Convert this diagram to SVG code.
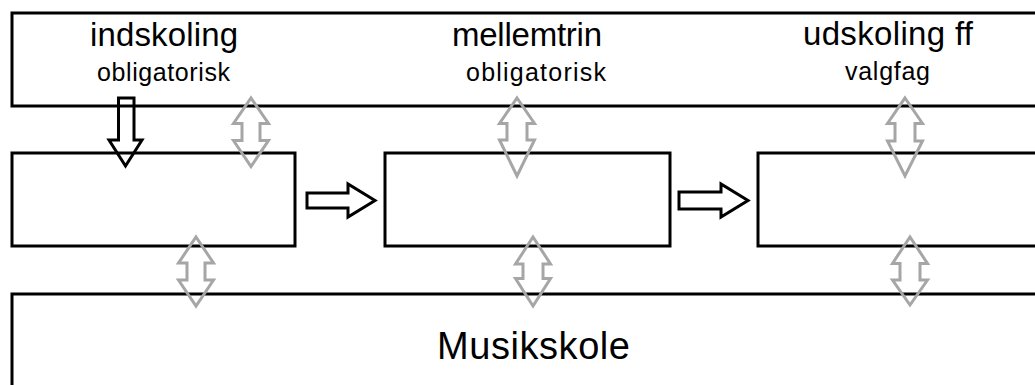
<svg xmlns="http://www.w3.org/2000/svg" width="1035" height="385" viewBox="0 0 1035 385">
  <style>
    .box { fill: none; stroke: #000; stroke-width: 3; }
    .blk { fill: none; stroke: #000; stroke-width: 3; stroke-linejoin: miter; }
    .gry { fill: none; stroke: #a6a6a6; stroke-width: 3; stroke-linejoin: miter; }
    .t { font-family: "Liberation Sans", Arial, sans-serif; fill: #000; text-anchor: middle; }
    .big { font-size: 33px; }
    .small { font-size: 25px; }
    .huge { font-size: 38px; }
  </style>
  <rect width="1035" height="385" fill="#fff"/>
  <g id="top-band">
    <rect class="box" x="12" y="13" width="1040" height="93"/>
    <text class="t big" x="164" y="46" textLength="148">indskoling</text>
    <text class="t small" x="163.5" y="81" textLength="133">obligatorisk</text>
    <text class="t big" x="527" y="46" textLength="150">mellemtrin</text>
    <text class="t small" x="536" y="81" textLength="140">obligatorisk</text>
    <text class="t big" x="888" y="45" textLength="170">udskoling ff</text>
    <text class="t small" x="887.5" y="80" textLength="85">valgfag</text>
  </g>
  <g id="stage-1">
    <rect class="box" x="12" y="153" width="283" height="93"/>
  </g>
  <g id="stage-2">
    <rect class="box" x="385" y="153" width="285" height="93"/>
  </g>
  <g id="stage-3">
    <rect class="box" x="758" y="153" width="300" height="93"/>
  </g>
  <g id="musikskole">
    <rect class="box" x="12" y="294" width="1040" height="120"/>
    <text class="t huge" x="533.5" y="359" textLength="193">Musikskole</text>
  </g>
  <g id="connectors">
    <path class="blk" d="M118.5,98 L134,98 L134,140 L142,140 L125.5,166 L109,140 L118.5,140 Z"/>
    <path class="blk" d="M307,193 L348,193 L348,184 L375,200.5 L348,217 L348,208 L307,208 Z"/>
    <path class="blk" d="M679,192 L721,192 L721,184 L748,200.5 L721,217 L721,209 L679,209 Z"/>
    <path class="gry" d="M251,98 L268.5,123.5 L260,123.5 L260,140.5 L268.5,140.5 L251,166.5 L233.5,140.5 L242,140.5 L242,123.5 L233.5,123.5 Z"/>
    <path class="gry" d="M517,98 L534.5,123.5 L527,123.5 L527,140 L534.5,140 L517,176 L499.5,140 L507,140 L507,123.5 L499.5,123.5 Z"/>
    <path class="gry" d="M905,98 L922.5,123.5 L915,123.5 L915,141 L922.5,141 L905,176 L887.5,141 L895,141 L895,123.5 L887.5,123.5 Z"/>
    <path class="gry" d="M196,237 L213.5,263 L205,263 L205,280 L213.5,280 L196,306 L178.5,280 L187,280 L187,263 L178.5,263 Z"/>
    <path class="gry" d="M533,237 L550.5,264 L543,264 L543,278.5 L550.5,278.5 L533,306 L515.5,278.5 L523,278.5 L523,264 L515.5,264 Z"/>
    <path class="gry" d="M910,237 L927.5,263.5 L920,263.5 L920,280 L927.5,280 L910,305 L892.5,280 L900,280 L900,263.5 L892.5,263.5 Z"/>
  </g>
</svg>
